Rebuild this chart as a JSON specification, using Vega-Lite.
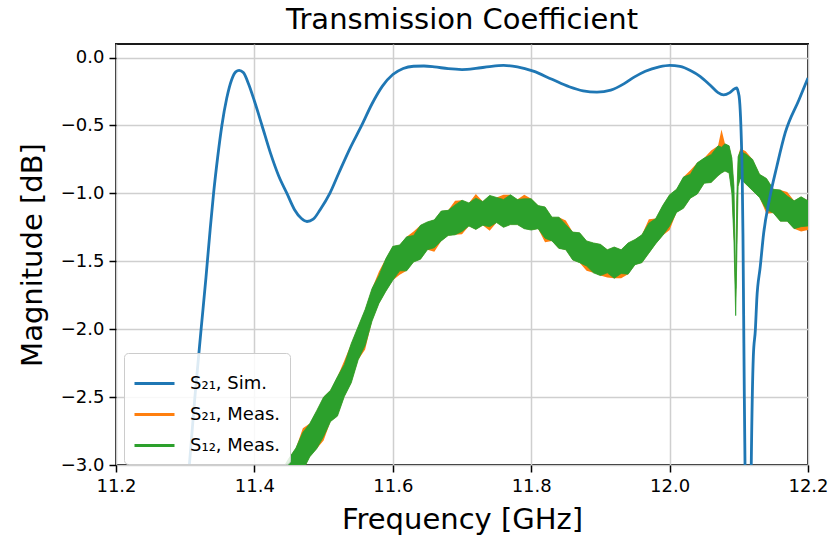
{
  "$schema": "https://vega.github.io/schema/vega-lite/v6.json",
  "width": 692,
  "height": 421,
  "autosize": {"type": "none"},
  "padding": {"left": 116, "top": 44, "right": 23, "bottom": 71},
  "background": "white",
  "title": {"text": "Transmission Coefficient", "font": "DejaVu Sans", "fontSize": 29, "fontWeight": "normal", "color": "#000000", "anchor": "middle", "offset": 9},
  "config": {
    "font": "DejaVu Sans",
    "view": {"stroke": "#1a1a1a", "strokeWidth": 2},
    "axis": {
      "labelFont": "DejaVu Sans", "labelFontSize": 18, "labelColor": "#000000",
      "titleFont": "DejaVu Sans", "titleFontSize": 29, "titleFontWeight": "normal", "titleColor": "#000000",
      "tickColor": "#000000", "tickSize": 7, "tickWidth": 1.5, "domain": false, "labelFlush": false,
      "gridColor": "#cfcfcf", "gridWidth": 1.5, "labelPadding": 5
    },
    "legend": {"labelFont": "DejaVu Sans", "labelFontSize": 18, "labelColor": "#000000"}
  },
  "datasets": {
    "sim": [
      {"f": 11.2, "db": -9}, {"f": 11.25, "db": -7.5}, {"f": 11.28, "db": -5.5}, {"f": 11.295, "db": -3.9},
      {"f": 11.3, "db": -3.4}, {"f": 11.306, "db": -3.0}, {"f": 11.314, "db": -2.5}, {"f": 11.323, "db": -2.0},
      {"f": 11.33, "db": -1.62}, {"f": 11.336, "db": -1.27}, {"f": 11.341, "db": -1.0}, {"f": 11.347, "db": -0.73},
      {"f": 11.353, "db": -0.5}, {"f": 11.36, "db": -0.3}, {"f": 11.367, "db": -0.165}, {"f": 11.373, "db": -0.105},
      {"f": 11.378, "db": -0.094}, {"f": 11.384, "db": -0.11}, {"f": 11.392, "db": -0.2}, {"f": 11.4, "db": -0.32},
      {"f": 11.411, "db": -0.5}, {"f": 11.423, "db": -0.7}, {"f": 11.435, "db": -0.87}, {"f": 11.447, "db": -1.0},
      {"f": 11.458, "db": -1.12}, {"f": 11.468, "db": -1.185}, {"f": 11.476, "db": -1.207}, {"f": 11.485, "db": -1.19},
      {"f": 11.495, "db": -1.12}, {"f": 11.509, "db": -1.0}, {"f": 11.522, "db": -0.85}, {"f": 11.538, "db": -0.67},
      {"f": 11.555, "db": -0.5}, {"f": 11.57, "db": -0.34}, {"f": 11.585, "db": -0.21}, {"f": 11.6, "db": -0.125},
      {"f": 11.615, "db": -0.08}, {"f": 11.63, "db": -0.064}, {"f": 11.645, "db": -0.062}, {"f": 11.66, "db": -0.068},
      {"f": 11.68, "db": -0.082}, {"f": 11.7, "db": -0.088}, {"f": 11.72, "db": -0.08}, {"f": 11.74, "db": -0.066},
      {"f": 11.76, "db": -0.058}, {"f": 11.78, "db": -0.068}, {"f": 11.803, "db": -0.1}, {"f": 11.83, "db": -0.16},
      {"f": 11.855, "db": -0.215}, {"f": 11.875, "db": -0.245}, {"f": 11.895, "db": -0.255}, {"f": 11.915, "db": -0.24},
      {"f": 11.935, "db": -0.19}, {"f": 11.95, "db": -0.14}, {"f": 11.965, "db": -0.1}, {"f": 11.985, "db": -0.068},
      {"f": 12.0, "db": -0.057}, {"f": 12.015, "db": -0.065}, {"f": 12.03, "db": -0.095}, {"f": 12.044, "db": -0.138},
      {"f": 12.058, "db": -0.2}, {"f": 12.07, "db": -0.258}, {"f": 12.078, "db": -0.275}, {"f": 12.087, "db": -0.258},
      {"f": 12.094, "db": -0.23}, {"f": 12.097, "db": -0.224}, {"f": 12.099, "db": -0.25}, {"f": 12.101, "db": -0.31},
      {"f": 12.103, "db": -0.5}, {"f": 12.105, "db": -0.9}, {"f": 12.106, "db": -1.3}, {"f": 12.107, "db": -1.9},
      {"f": 12.108, "db": -2.5}, {"f": 12.109, "db": -3.0}, {"f": 12.111, "db": -4.0}, {"f": 12.1135, "db": -6.0},
      {"f": 12.116, "db": -4.0}, {"f": 12.118, "db": -3.0}, {"f": 12.121, "db": -2.2}, {"f": 12.124, "db": -2.0},
      {"f": 12.126, "db": -1.78}, {"f": 12.131, "db": -1.54}, {"f": 12.136, "db": -1.29}, {"f": 12.144, "db": -1.05},
      {"f": 12.155, "db": -0.8}, {"f": 12.167, "db": -0.555}, {"f": 12.187, "db": -0.31}, {"f": 12.2, "db": -0.15}
    ],
    "meas": [
      {"f": 11.40, "glo": -3.69, "ghi": -3.40, "olo": -3.69, "ohi": -3.40},
      {"f": 11.41, "glo": -3.58, "ghi": -3.35, "olo": -3.58, "ohi": -3.35},
      {"f": 11.42, "glo": -3.53, "ghi": -3.24, "olo": -3.53, "ohi": -3.21},
      {"f": 11.43, "glo": -3.415, "ghi": -3.18, "olo": -3.415, "ohi": -3.18},
      {"f": 11.44, "glo": -3.325, "ghi": -3.035, "olo": -3.325, "ohi": -3.035},
      {"f": 11.45, "glo": -3.195, "ghi": -2.95, "olo": -3.23, "ohi": -2.95},
      {"f": 11.46, "glo": -3.14, "ghi": -2.875, "olo": -3.14, "ohi": -2.875},
      {"f": 11.47, "glo": -3.04, "ghi": -2.76, "olo": -3.04, "ohi": -2.73},
      {"f": 11.48, "glo": -2.94, "ghi": -2.695, "olo": -2.94, "ohi": -2.695},
      {"f": 11.49, "glo": -2.88, "ghi": -2.60, "olo": -2.88, "ohi": -2.60},
      {"f": 11.50, "glo": -2.79, "ghi": -2.50, "olo": -2.82, "ohi": -2.50},
      {"f": 11.51, "glo": -2.68, "ghi": -2.45, "olo": -2.68, "ohi": -2.45},
      {"f": 11.52, "glo": -2.64, "ghi": -2.35, "olo": -2.64, "ohi": -2.35},
      {"f": 11.53, "glo": -2.495, "ghi": -2.26, "olo": -2.495, "ohi": -2.23},
      {"f": 11.54, "glo": -2.395, "ghi": -2.105, "olo": -2.395, "ohi": -2.105},
      {"f": 11.55, "glo": -2.225, "ghi": -1.98, "olo": -2.225, "ohi": -1.98},
      {"f": 11.56, "glo": -2.12, "ghi": -1.855, "olo": -2.15, "ohi": -1.855},
      {"f": 11.57, "glo": -1.94, "ghi": -1.70, "olo": -1.94, "ohi": -1.70},
      {"f": 11.58, "glo": -1.81, "ghi": -1.605, "olo": -1.81, "ohi": -1.575},
      {"f": 11.59, "glo": -1.72, "ghi": -1.48, "olo": -1.72, "ohi": -1.48},
      {"f": 11.60, "glo": -1.64, "ghi": -1.39, "olo": -1.64, "ohi": -1.39},
      {"f": 11.61, "glo": -1.57, "ghi": -1.38, "olo": -1.60, "ohi": -1.38},
      {"f": 11.62, "glo": -1.57, "ghi": -1.32, "olo": -1.57, "ohi": -1.32},
      {"f": 11.63, "glo": -1.505, "ghi": -1.31, "olo": -1.505, "ohi": -1.28},
      {"f": 11.64, "glo": -1.485, "ghi": -1.235, "olo": -1.485, "ohi": -1.235},
      {"f": 11.65, "glo": -1.415, "ghi": -1.21, "olo": -1.415, "ohi": -1.21},
      {"f": 11.66, "glo": -1.40, "ghi": -1.195, "olo": -1.43, "ohi": -1.195},
      {"f": 11.67, "glo": -1.35, "ghi": -1.13, "olo": -1.35, "ohi": -1.13},
      {"f": 11.68, "glo": -1.31, "ghi": -1.125, "olo": -1.31, "ohi": -1.125},
      {"f": 11.69, "glo": -1.305, "ghi": -1.085, "olo": -1.305, "ohi": -1.055},
      {"f": 11.70, "glo": -1.28, "ghi": -1.05, "olo": -1.30, "ohi": -1.05},
      {"f": 11.71, "glo": -1.24, "ghi": -1.07, "olo": -1.24, "ohi": -1.07},
      {"f": 11.72, "glo": -1.265, "ghi": -1.035, "olo": -1.265, "ohi": -1.005},
      {"f": 11.73, "glo": -1.235, "ghi": -1.06, "olo": -1.235, "ohi": -1.06},
      {"f": 11.74, "glo": -1.245, "ghi": -1.015, "olo": -1.275, "ohi": -1.015},
      {"f": 11.75, "glo": -1.215, "ghi": -1.03, "olo": -1.215, "ohi": -1.03},
      {"f": 11.76, "glo": -1.25, "ghi": -1.045, "olo": -1.25, "ohi": -1.01},
      {"f": 11.77, "glo": -1.23, "ghi": -1.01, "olo": -1.23, "ohi": -1.01},
      {"f": 11.78, "glo": -1.23, "ghi": -1.045, "olo": -1.23, "ohi": -1.045},
      {"f": 11.79, "glo": -1.26, "ghi": -1.04, "olo": -1.26, "ohi": -1.01},
      {"f": 11.80, "glo": -1.27, "ghi": -1.04, "olo": -1.27, "ohi": -1.04},
      {"f": 11.81, "glo": -1.26, "ghi": -1.09, "olo": -1.26, "ohi": -1.09},
      {"f": 11.82, "glo": -1.33, "ghi": -1.10, "olo": -1.36, "ohi": -1.10},
      {"f": 11.83, "glo": -1.35, "ghi": -1.175, "olo": -1.35, "ohi": -1.175},
      {"f": 11.84, "glo": -1.405, "ghi": -1.175, "olo": -1.405, "ohi": -1.175},
      {"f": 11.85, "glo": -1.415, "ghi": -1.23, "olo": -1.415, "ohi": -1.20},
      {"f": 11.86, "glo": -1.49, "ghi": -1.285, "olo": -1.49, "ohi": -1.285},
      {"f": 11.87, "glo": -1.51, "ghi": -1.29, "olo": -1.51, "ohi": -1.29},
      {"f": 11.88, "glo": -1.535, "ghi": -1.35, "olo": -1.57, "ohi": -1.35},
      {"f": 11.89, "glo": -1.585, "ghi": -1.365, "olo": -1.585, "ohi": -1.365},
      {"f": 11.90, "glo": -1.605, "ghi": -1.375, "olo": -1.605, "ohi": -1.375},
      {"f": 11.91, "glo": -1.585, "ghi": -1.415, "olo": -1.62, "ohi": -1.415},
      {"f": 11.92, "glo": -1.625, "ghi": -1.395, "olo": -1.625, "ohi": -1.395},
      {"f": 11.93, "glo": -1.59, "ghi": -1.415, "olo": -1.625, "ohi": -1.415},
      {"f": 11.94, "glo": -1.595, "ghi": -1.365, "olo": -1.595, "ohi": -1.365},
      {"f": 11.95, "glo": -1.525, "ghi": -1.34, "olo": -1.525, "ohi": -1.34},
      {"f": 11.96, "glo": -1.51, "ghi": -1.305, "olo": -1.51, "ohi": -1.305},
      {"f": 11.97, "glo": -1.44, "ghi": -1.22, "olo": -1.44, "ohi": -1.19},
      {"f": 11.98, "glo": -1.37, "ghi": -1.185, "olo": -1.37, "ohi": -1.185},
      {"f": 11.99, "glo": -1.31, "ghi": -1.09, "olo": -1.31, "ohi": -1.09},
      {"f": 12.00, "glo": -1.24, "ghi": -1.01, "olo": -1.27, "ohi": -1.01},
      {"f": 12.01, "glo": -1.14, "ghi": -0.97, "olo": -1.14, "ohi": -0.97},
      {"f": 12.02, "glo": -1.11, "ghi": -0.88, "olo": -1.11, "ohi": -0.88},
      {"f": 12.03, "glo": -1.035, "ghi": -0.86, "olo": -1.035, "ohi": -0.83},
      {"f": 12.04, "glo": -1.005, "ghi": -0.775, "olo": -1.005, "ohi": -0.775},
      {"f": 12.05, "glo": -0.925, "ghi": -0.74, "olo": -0.925, "ohi": -0.74},
      {"f": 12.06, "glo": -0.92, "ghi": -0.715, "olo": -0.92, "ohi": -0.685},
      {"f": 12.07, "glo": -0.87, "ghi": -0.65, "olo": -0.87, "ohi": -0.65},
      {"f": 12.075, "glo": -0.85, "ghi": -0.66, "olo": -0.85, "ohi": -0.53},
      {"f": 12.08, "glo": -0.835, "ghi": -0.635, "olo": -0.835, "ohi": -0.635},
      {"f": 12.086, "glo": -0.85, "ghi": -0.65, "olo": -0.85, "ohi": -0.65},
      {"f": 12.09, "glo": -1.00, "ghi": -0.74, "olo": -1.00, "ohi": -0.74},
      {"f": 12.093, "glo": -1.35, "ghi": -0.95, "olo": -1.35, "ohi": -0.95},
      {"f": 12.0955, "glo": -1.90, "ghi": -1.70, "olo": -1.89, "ohi": -1.71},
      {"f": 12.097, "glo": -1.50, "ghi": -1.05, "olo": -1.50, "ohi": -1.05},
      {"f": 12.099, "glo": -0.95, "ghi": -0.73, "olo": -0.95, "ohi": -0.73},
      {"f": 12.102, "glo": -0.89, "ghi": -0.69, "olo": -0.89, "ohi": -0.67},
      {"f": 12.11, "glo": -0.93, "ghi": -0.71, "olo": -0.93, "ohi": -0.69},
      {"f": 12.12, "glo": -0.98, "ghi": -0.75, "olo": -0.98, "ohi": -0.75},
      {"f": 12.13, "glo": -1.03, "ghi": -0.86, "olo": -1.03, "ohi": -0.86},
      {"f": 12.14, "glo": -1.12, "ghi": -0.89, "olo": -1.15, "ohi": -0.89},
      {"f": 12.15, "glo": -1.145, "ghi": -0.97, "olo": -1.145, "ohi": -0.97},
      {"f": 12.16, "glo": -1.205, "ghi": -0.975, "olo": -1.205, "ohi": -0.975},
      {"f": 12.17, "glo": -1.205, "ghi": -1.02, "olo": -1.205, "ohi": -0.99},
      {"f": 12.18, "glo": -1.26, "ghi": -1.055, "olo": -1.26, "ohi": -1.055},
      {"f": 12.19, "glo": -1.245, "ghi": -1.025, "olo": -1.28, "ohi": -1.025},
      {"f": 12.20, "glo": -1.24, "ghi": -1.055, "olo": -1.27, "ohi": -1.055}
    ]
  },
  "layer": [
    {
      "data": {"name": "meas"},
      "mark": {"type": "area", "clip": true},
      "encoding": {
        "x": {"field": "f", "type": "quantitative", "title": "Frequency [GHz]",
              "scale": {"domain": [11.2, 12.2], "nice": false, "zero": false},
              "axis": {"values": [11.2, 11.4, 11.6, 11.8, 12.0, 12.2], "format": ".1f", "titlePadding": 10}},
        "y": {"field": "olo", "type": "quantitative", "title": "Magnitude [dB]",
              "scale": {"domain": [-3, 0.1], "nice": false, "zero": false},
              "axis": {"values": [-3, -2.5, -2, -1.5, -1, -0.5, 0], "format": ".1f", "titlePadding": 13}},
        "y2": {"field": "ohi"},
        "color": {"datum": "S₂₁, Meas.", "type": "nominal",
                  "scale": {"domain": ["S₂₁, Sim.", "S₂₁, Meas.", "S₁₂, Meas."], "range": ["#1f77b4", "#ff7f0e", "#2ca02c"]},
                  "legend": {"title": null, "orient": "none", "legendX": 8, "legendY": 309,
                             "symbolType": "stroke", "symbolSize": 1600, "symbolStrokeWidth": 3,
                             "labelOffset": 14, "rowPadding": -4, "padding": 9,
                             "fillColor": "rgba(255,255,255,0.85)", "strokeColor": "#cccccc", "cornerRadius": 4,
                             "encode": {"symbols": {"update": {"stroke": {"scale": "color", "field": "value"}, "strokeWidth": {"value": 3}}}}}}
      }
    },
    {
      "data": {"name": "meas"},
      "mark": {"type": "area", "clip": true, "stroke": "#2ca02c", "strokeWidth": 0.8},
      "encoding": {
        "x": {"field": "f", "type": "quantitative"},
        "y": {"field": "glo", "type": "quantitative"},
        "y2": {"field": "ghi"},
        "color": {"datum": "S₁₂, Meas.", "type": "nominal"}
      }
    },
    {
      "mark": {"type": "rule", "color": "#808080", "strokeWidth": 2.5, "strokeDash": [9, 5]},
      "encoding": {"x": {"datum": 11.7, "type": "quantitative"}}
    },
    {
      "data": {"name": "sim"},
      "mark": {"type": "line", "clip": true, "strokeWidth": 2.8, "interpolate": "monotone"},
      "encoding": {
        "x": {"field": "f", "type": "quantitative"},
        "y": {"field": "db", "type": "quantitative"},
        "color": {"datum": "S₂₁, Sim.", "type": "nominal"}
      }
    }
  ]
}
